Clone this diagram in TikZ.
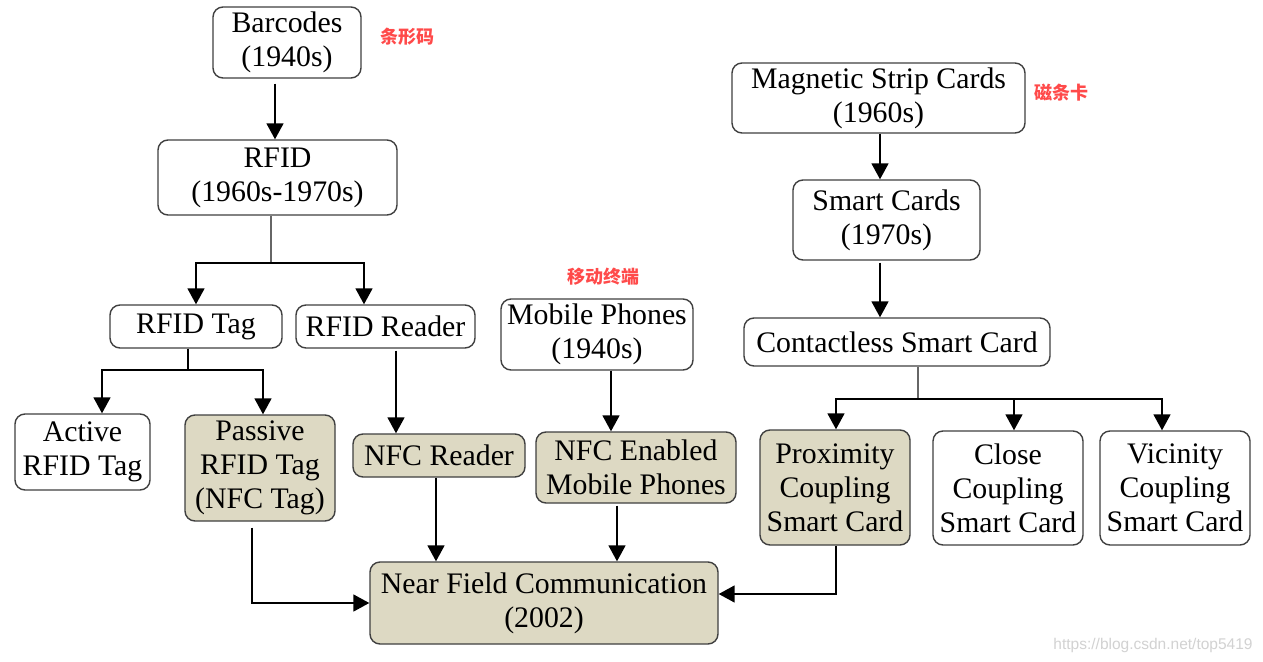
\documentclass[tikz,border=0pt]{standalone}
\usepackage{fontspec}
\setmainfont{Liberation Serif}
\newfontfamily\cjk{Noto Sans CJK SC}
\newfontfamily\wmfont{Liberation Sans}
\usetikzlibrary{arrows.meta}
\definecolor{tanfill}{HTML}{DDD9C3}
\definecolor{boxline}{HTML}{404040}
\definecolor{redlab}{HTML}{FF4A4A}
\begin{document}
\begin{tikzpicture}[x=1pt,y=1pt,
 box/.style={draw=boxline, line width=1.4pt, rounded corners=10pt, align=center, inner sep=0pt, font=\fontsize{29.8}{34}\selectfont, text=black},
 hl/.style={box, fill=tanfill},
 sz/.style 2 args={minimum width=#1pt, minimum height=#2pt},
 arr/.style={draw=black, line width=1.7pt, -{Triangle[length=16pt,width=17pt]}},
 stem/.style={draw=gray!80!black, line width=1.6pt},
 bline/.style={draw=black, line width=1.7pt},
 redlabel/.style={text=redlab, font=\cjk\bfseries\fontsize{18}{20}\selectfont, inner sep=0pt},
 ]
\fill[white] (0,0) rectangle (1263,-661);
\useasboundingbox (0,0) rectangle (1263,-661);

% nodes
\node[box, sz={148}{71}] (bar) at (287,-42.5) {Barcodes\\(1940s)};
\node[box, sz={239}{75}] (rfid) at (277.5,-177.5) {RFID\\(1960s-1970s)};
\node[box, sz={172}{43}] (tag) at (196,-326.5) {RFID Tag};
\node[box, sz={179}{43}] (rdr) at (385.5,-326.5) {RFID Reader};
\node[box, sz={135}{76}] (act) at (82.5,-452) {Active\\RFID Tag};
\node[hl, sz={150}{106}] (pas) at (260,-468) {Passive\\RFID Tag\\(NFC Tag)};
\node[hl, sz={172}{43}] (nrd) at (439,-455.5) {NFC Reader};
\node[box, sz={192}{71}] (mob) at (597,-334.5) {Mobile Phones\\(1940s)};
\node[hl, sz={200}{71}] (nen) at (636,-467.5) {NFC Enabled\\Mobile Phones};
\node[hl, sz={348}{82}] (nfc) at (544,-603) {Near Field Communication\\(2002)};
\node[box, sz={293}{70}] (mag) at (878.5,-98) {Magnetic Strip Cards\\(1960s)};
\node[box, sz={187}{80}] (smc) at (886.5,-220) {Smart Cards\\(1970s)};
\node[box, sz={306}{48}] (csc) at (897,-342) {Contactless Smart Card};
\node[hl, sz={150}{115}] (prx) at (835,-487.5) {Proximity\\Coupling\\Smart Card};
\node[box, sz={150}{114}] (cls) at (1008,-488) {Close\\Coupling\\Smart Card};
\node[box, sz={150}{114}] (vic) at (1175,-488) {Vicinity\\Coupling\\Smart Card};

% labels
\node[redlabel] (l1) at (407,-37) {条形码};
\node[redlabel] (l2) at (1061,-93) {磁条卡};
\node[redlabel] (l3) at (603,-277) {移动终端};
\node[text=gray!35, font=\wmfont\fontsize{15.5}{18}\selectfont, inner sep=0pt] (wm) at (1153,-645) {https://blog.csdn.net/top5419};

% helper coordinates
\coordinate (xa) at (275,0);
\coordinate (j1) at (271,-263);
\coordinate (xr) at (364,0);
\coordinate (j2) at (188,-370);
\coordinate (xact) at (102,0);
\coordinate (xpas) at (263,0);
\coordinate (x3) at (396,0);
\coordinate (x4) at (436,0);
\coordinate (x5) at (611,0);
\coordinate (x5b) at (617,0);
\coordinate (x6) at (252,0);
\coordinate (y7) at (0,-594);
\coordinate (xm) at (880,0);
\coordinate (j3) at (918,-399);
\coordinate (xp) at (836,0);
\coordinate (xc) at (1014,0);
\coordinate (xv) at (1162,0);

% connectors
\draw[arr, shorten <=5pt] (bar.south -| xa) -- (rfid.north -| xa);
\draw[stem] (rfid.south -| j1) -- (j1);
\draw[arr] (j1) -| (tag.north);
\draw[arr] (j1) -| (xr |- rdr.north);
\draw[bline] (tag.south -| j2) -- (j2);
\draw[arr] (j2) -| (xact |- act.north);
\draw[arr] (j2) -| (xpas |- pas.north);
\draw[arr, shorten <=2pt] (rdr.south -| x3) -- (nrd.north -| x3);
\draw[arr] (nrd.south -| x4) -- (nfc.north -| x4);
\draw[arr] (mob.south -| x5) -- (nen.north -| x5);
\draw[arr, shorten <=2pt] (nen.south -| x5b) -- (nfc.north -| x5b);
\draw[arr, shorten <=6pt] (pas.south -| x6) |- (nfc.west);
\draw[arr] (prx.south -| xp) |- (nfc.east |- y7);
\draw[arr] (mag.south -| xm) -- (smc.north -| xm);
\draw[arr, shorten <=2pt] (smc.south -| xm) -- (csc.north -| xm);
\draw[stem] (csc.south -| j3) -- (j3);
\draw[arr] (j3) -| (xp |- prx.north);
\draw[arr] (j3) -| (xc |- cls.north);
\draw[arr] (j3) -| (xv |- vic.north);
\end{tikzpicture}
\end{document}
